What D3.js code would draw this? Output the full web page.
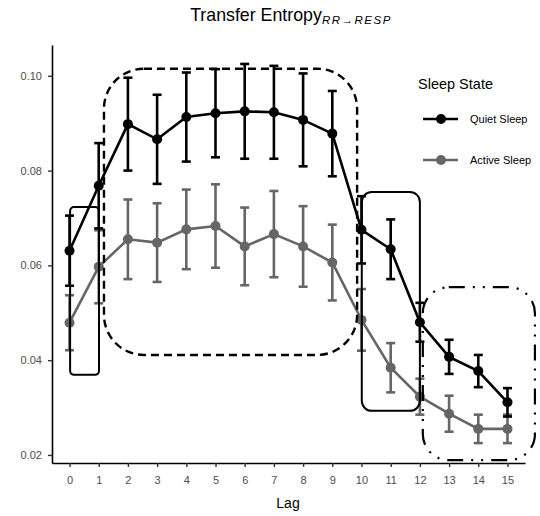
<!DOCTYPE html>
<html><head><meta charset="utf-8">
<script src="https://cdn.jsdelivr.net/npm/d3@7"></script>
<style>body{margin:0;background:#fff}svg{display:block}</style>
</head><body>
<svg id="c" width="540" height="516"></svg>
<script>
const lags = [0,1,2,3,4,5,6,7,8,9,10,11,12,13,14,15];
const quietMean = [0.0631,0.0768,0.0898,0.0866,0.0913,0.0921,0.0925,0.0923,0.0907,0.0878,0.0675,0.0634,0.0480,0.0407,0.0377,0.0311];
const quietErr  = [0.0074,0.0090,0.0098,0.0094,0.0094,0.0093,0.0100,0.0098,0.0098,0.0090,0.0071,0.0063,0.0041,0.0036,0.0034,0.0030];
const activeMean = [0.0479,0.0597,0.0655,0.0648,0.0676,0.0683,0.0640,0.0666,0.0640,0.0606,0.0485,0.0384,0.0323,0.0287,0.0255,0.0255];
const activeErr  = [0.0058,0.0077,0.0084,0.0083,0.0084,0.0088,0.0082,0.0091,0.0085,0.0080,0.0065,0.0052,0.0038,0.0038,0.0030,0.0030];
const seriesNames = ["Quiet Sleep","Active Sleep"];
const yTicks = [0.02,0.04,0.06,0.08,0.10];
// annotation boxes: [lagFrom, lagTo, valueTop, valueBottom]
const boxSolidA = [0.02, 1.01, 0.0723, 0.0369];
const boxDashed = [1.18, 9.85, 0.1015, 0.0411];
const boxSolidB = [10.01, 12.0, 0.0755, 0.0293];
const boxDashDot = [12.1, 15.94, 0.0554, 0.0189];

const svg = d3.select("#c");
const F = "'Liberation Sans', Arial, sans-serif";
const x = d3.scaleLinear().domain([-0.6, 15.6]).range([52, 525]);
const y = d3.scaleLinear().domain([0.0183, 0.1065]).range([463, 45]);

// axes
const gx = svg.append("g").attr("transform","translate(0,463)")
  .call(d3.axisBottom(x).tickValues(lags).tickFormat(d3.format("d")).tickSize(4).tickSizeOuter(0));
const gy = svg.append("g").attr("transform","translate(52,0)")
  .call(d3.axisLeft(y).tickValues(yTicks).tickFormat(d3.format(".2f")).tickSize(4).tickSizeOuter(0));
[gx,gy].forEach(g=>{
  g.select(".domain").attr("stroke","#000").attr("stroke-width",1.6);
  g.selectAll(".tick line").attr("stroke","#333").attr("stroke-width",1.4);
  g.selectAll(".tick text").attr("fill","#4d4d4d").style("font-family",F).style("font-size","11px");
});
gx.selectAll(".tick text").attr("dy","1.25em");
gy.selectAll(".tick text").attr("dx","-3px");

// series
const series = [
  {name: seriesNames[1], mean: activeMean, err: activeErr, color: "#666666"},
  {name: seriesNames[0], mean: quietMean, err: quietErr, color: "#000000"}
];
series.forEach(s=>{
  const g = svg.append("g");
  const pts = lags.map((l,i)=>({l, m:s.mean[i], e:s.err[i]}));
  g.append("path").datum(pts)
    .attr("d", d3.line().x(d=>x(d.l)).y(d=>y(d.m)))
    .attr("fill","none").attr("stroke",s.color).attr("stroke-width",2.6);
  const eb = g.selectAll(".eb").data(pts).enter().append("g");
  eb.append("line").attr("x1",d=>x(d.l)).attr("x2",d=>x(d.l))
    .attr("y1",d=>y(d.m+d.e)).attr("y2",d=>y(d.m-d.e))
    .attr("stroke",s.color).attr("stroke-width",2.6);
  [1,-1].forEach(sg=>{
    eb.append("line").attr("x1",d=>x(d.l)-4.5).attr("x2",d=>x(d.l)+4.5)
      .attr("y1",d=>y(d.m+sg*d.e)).attr("y2",d=>y(d.m+sg*d.e))
      .attr("stroke",s.color).attr("stroke-width",2.6);
  });
  g.selectAll("circle").data(pts).enter().append("circle")
    .attr("cx",d=>x(d.l)).attr("cy",d=>y(d.m)).attr("r",5).attr("fill",s.color);
});

// annotation boxes
function box(b, rx, dash, sw){
  svg.append("rect")
    .attr("x", x(b[0])).attr("y", y(b[2]))
    .attr("width", x(b[1])-x(b[0])).attr("height", y(b[3])-y(b[2]))
    .attr("rx", rx).attr("ry", rx)
    .attr("fill","none").attr("stroke","#000").attr("stroke-width",sw)
    .attr("stroke-dasharray", dash);
}
box(boxSolidA, 4, null, 2);
box(boxDashed, 40, "8,5", 2.4);
box(boxSolidB, 10, null, 2);
box(boxDashDot, 26, "16,8,2,8,2,8", 2.2);

// title
const t = svg.append("text").attr("x",291).attr("y",21).attr("text-anchor","middle")
  .style("font-family",F).style("font-size","17.8px").attr("fill","#000");
t.append("tspan").text("Transfer Entropy");
t.append("tspan").attr("dy",3).style("font-size","11.5px").style("font-style","italic")
  .style("letter-spacing","1.5px").text("RR\u2192RESP");

// x label
svg.append("text").attr("x",288).attr("y",508).attr("text-anchor","middle")
  .style("font-family",F).style("font-size","14px").text("Lag");

// legend
svg.append("text").attr("x",418).attr("y",89).style("font-family",F).style("font-size","14.5px").text("Sleep State");
const legY = [119, 160];
[series[1], series[0]].forEach((s,i)=>{
  const g = svg.append("g");
  g.append("line").attr("x1",423).attr("x2",458).attr("y1",legY[i]).attr("y2",legY[i])
    .attr("stroke",s.color).attr("stroke-width",2.6);
  g.append("circle").attr("cx",441).attr("cy",legY[i]).attr("r",5).attr("fill",s.color);
  g.append("text").attr("x",470).attr("y",legY[i]+4).style("font-family",F).style("font-size","11px")
    .text(s.name);
});
</script>
</body></html>
